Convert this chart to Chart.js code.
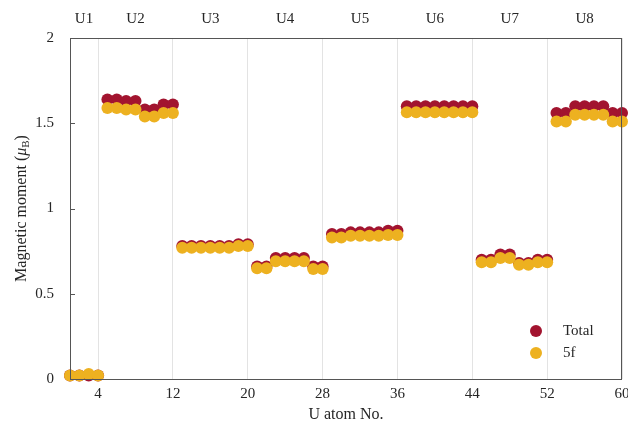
<!DOCTYPE html>
<html>
<head>
<meta charset="utf-8">
<script src="https://cdn.jsdelivr.net/npm/chart.js@4"></script>
<style>
  body { margin: 0; background: #fff; }
  #wrap { width: 628px; height: 430px; }
</style>
</head>
<body>
<div id="wrap"><canvas id="myChart" width="628" height="430"></canvas></div>
<script>
// U atom numbers 1..60
const atoms = [];
for (let i = 1; i <= 60; i++) atoms.push(i);

const total = [
  0.02, 0.02, 0.02, 0.02,
  1.64, 1.64, 1.63, 1.63, 1.58, 1.58, 1.61, 1.61,
  0.78, 0.78, 0.78, 0.78, 0.78, 0.78, 0.79, 0.79,
  0.66, 0.66, 0.71, 0.71, 0.71, 0.71, 0.66, 0.66,
  0.85, 0.85, 0.86, 0.86, 0.86, 0.86, 0.87, 0.87,
  1.60, 1.60, 1.60, 1.60, 1.60, 1.60, 1.60, 1.60,
  0.70, 0.70, 0.73, 0.73, 0.68, 0.68, 0.70, 0.70,
  1.56, 1.56, 1.60, 1.60, 1.60, 1.60, 1.56, 1.56,
];
const f5 = [
  0.02, 0.02, 0.03, 0.02,
  1.59, 1.59, 1.58, 1.58, 1.54, 1.54, 1.56, 1.56,
  0.77, 0.77, 0.77, 0.77, 0.77, 0.77, 0.78, 0.78,
  0.65, 0.65, 0.69, 0.69, 0.69, 0.69, 0.645, 0.645,
  0.83, 0.83, 0.84, 0.84, 0.84, 0.84, 0.845, 0.845,
  1.565, 1.565, 1.565, 1.565, 1.565, 1.565, 1.565, 1.565,
  0.685, 0.685, 0.71, 0.71, 0.67, 0.67, 0.685, 0.685,
  1.51, 1.51, 1.55, 1.55, 1.55, 1.55, 1.51, 1.51,
];

const xTicks = [4, 12, 20, 28, 36, 44, 52, 60];
const yTicks = [0, 0.5, 1, 1.5, 2];
const yTickLabels = ['0', '0.5', '1', '1.5', '2'];
const groupNames = ['U1', 'U2', 'U3', 'U4', 'U5', 'U6', 'U7', 'U8'];
const groupCenters = [2.5, 8, 16, 24, 32, 40, 48, 56];

const serif = '"Liberation Serif", "DejaVu Serif", serif';
const textColor = '#262626';

const frame = {
  id: 'frame',
  afterDatasetsDraw(chart) {
    const { ctx, chartArea: a, scales } = chart;
    ctx.save();
    ctx.strokeStyle = '#555';
    ctx.lineWidth = 1;
    ctx.strokeRect(a.left + 0.5, a.top + 0.5, a.right - a.left - 1, a.bottom - a.top);
    // inward y ticks
    yTicks.forEach(v => {
      const y = Math.round(scales.y.getPixelForValue(v)) + 0.5;
      ctx.beginPath();
      ctx.moveTo(a.left, y);
      ctx.lineTo(a.left + 5, y);
      ctx.stroke();
    });
    ctx.restore();
  },
  afterDraw(chart) {
    const { ctx, chartArea: a } = chart;
    ctx.save();
    // y-axis title with subscript
    ctx.translate(22, (a.top + a.bottom) / 2);
    ctx.rotate(-Math.PI / 2);
    ctx.fillStyle = textColor;
    ctx.textBaseline = 'middle';
    const p1 = 'Magnetic moment (';
    ctx.font = '16px ' + serif;
    const w1 = ctx.measureText(p1).width;
    ctx.font = 'italic 16px ' + serif;
    const w2 = ctx.measureText('μ').width;
    ctx.font = '11px ' + serif;
    const w3 = ctx.measureText('B').width;
    ctx.font = '16px ' + serif;
    const w4 = ctx.measureText(')').width;
    let x = -(w1 + w2 + w3 + w4) / 2;
    ctx.textAlign = 'left';
    ctx.fillText(p1, x, 0); x += w1;
    ctx.font = 'italic 16px ' + serif;
    ctx.fillText('μ', x, 0); x += w2;
    ctx.font = '11px ' + serif;
    ctx.fillText('B', x, 4); x += w3;
    ctx.font = '16px ' + serif;
    ctx.fillText(')', x, 0);
    ctx.restore();

    // legend inside plot, bottom right
    ctx.save();
    const items = [
      { label: chart.data.datasets[1].label, color: chart.data.datasets[1].backgroundColor },
      { label: chart.data.datasets[0].label, color: chart.data.datasets[0].backgroundColor },
    ];
    ctx.font = '15px ' + serif;
    ctx.textBaseline = 'middle';
    ctx.textAlign = 'left';
    items.forEach((it, i) => {
      const cy = 331 + i * 22;
      ctx.fillStyle = it.color;
      ctx.beginPath();
      ctx.arc(536, cy, 6, 0, Math.PI * 2);
      ctx.fill();
      ctx.fillStyle = textColor;
      ctx.fillText(it.label, 563, cy);
    });
    ctx.restore();
  },
};

const ctx = document.getElementById('myChart').getContext('2d');
new Chart(ctx, {
  type: 'scatter',
  data: {
    datasets: [
      {
        label: '5f',
        data: atoms.map((a, i) => ({ x: a, y: f5[i] })),
        backgroundColor: '#EDB120',
        borderColor: '#EDB120',
        pointRadius: 6,
        borderWidth: 0,
        clip: false,
      },
      {
        label: 'Total',
        data: atoms.map((a, i) => ({ x: a, y: total[i] })),
        backgroundColor: '#A2142F',
        borderColor: '#A2142F',
        pointRadius: 6,
        borderWidth: 0,
        clip: false,
      },
    ],
  },
  options: {
    responsive: false,
    animation: false,
    layout: { padding: { left: 0, right: 4, top: 0, bottom: 0 } },
    plugins: {
      legend: { display: false },
      tooltip: { enabled: false },
    },
    scales: {
      x: {
        type: 'linear',
        position: 'bottom',
        min: 1,
        max: 60,
        afterBuildTicks: s => { s.ticks = xTicks.map(v => ({ value: v })); },
        afterFit: s => { s.height = 51; s.paddingRight = 0; s.paddingLeft = 0; },
        ticks: { color: textColor, font: { family: serif, size: 15 }, padding: 6, maxRotation: 0 },
        grid: { color: '#e3e3e3', drawTicks: false, lineWidth: 1 },
        border: { display: false },
        title: { display: true, text: 'U atom No.', color: textColor, font: { family: serif, size: 16 }, padding: { top: 0, bottom: 6 } },
      },
      x2: {
        type: 'linear',
        position: 'top',
        min: 1,
        max: 60,
        afterBuildTicks: s => { s.ticks = groupCenters.map(v => ({ value: v })); },
        afterFit: s => { s.height = 38; s.paddingRight = 0; s.paddingLeft = 0; },
        ticks: {
          color: textColor,
          font: { family: serif, size: 15 },
          padding: 2,
          maxRotation: 0,
          autoSkip: false,
          callback: (v, i) => groupNames[i],
        },
        grid: { display: false },
        border: { display: false },
      },
      y: {
        min: 0,
        max: 2,
        afterBuildTicks: s => { s.ticks = yTicks.map(v => ({ value: v })); },
        afterFit: s => { s.width = 70; },
        ticks: {
          color: textColor,
          font: { family: serif, size: 15 },
          padding: 8,
          callback: (v, i) => yTickLabels[i],
        },
        grid: { display: false },
        border: { display: false },
      },
    },
  },
  plugins: [frame],
});
</script>
</body>
</html>
